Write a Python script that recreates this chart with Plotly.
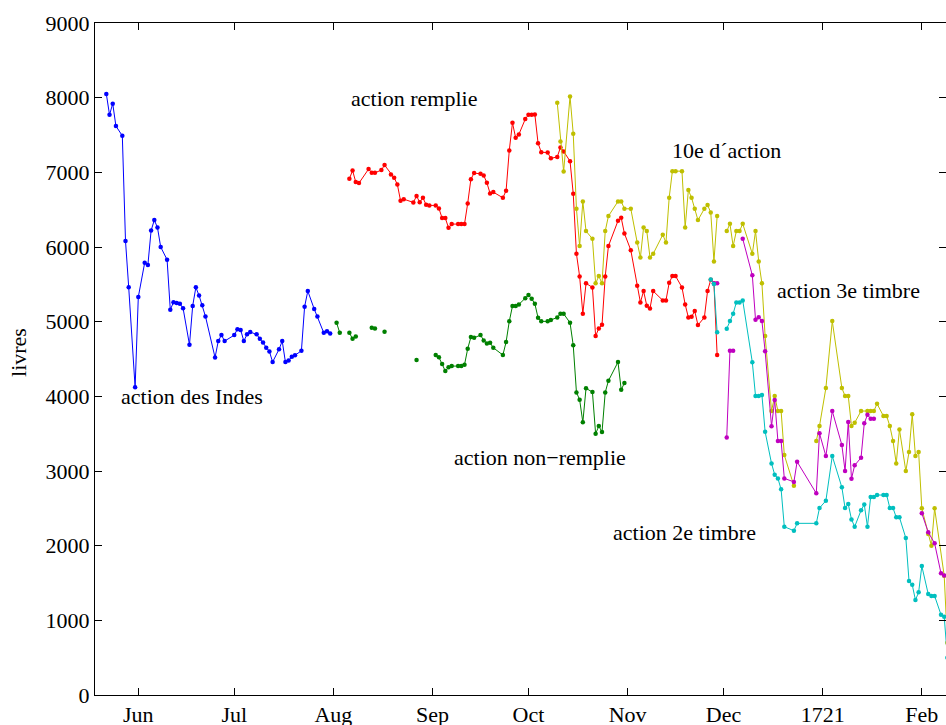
import plotly.graph_objects as go
import pandas as pd

# x values are days counted from 1 June 1720 (negative = late May 1720)
BASE_DATE = "1720-06-01"

blue_days = [-10, -9, -8, -7, -5, -4, -3, -1, 0, 2, 3, 4, 5, 6, 7, 9, 10, 11, 12, 13, 14,
             16, 17, 18, 19, 20, 21, 24, 25, 26, 27, 30, 31, 32, 33, 34, 35, 37, 38, 39, 40,
             41, 42, 44, 45, 46, 47, 48, 49, 51, 52, 53, 55, 56, 58, 59, 60]
blue_vals = [8050, 7770, 7920, 7620, 7490, 6080, 5460, 4120, 5330, 5790, 5760, 6220, 6360,
             6260, 6000, 5830, 5160, 5260, 5250, 5240, 5180, 4690, 5210, 5460, 5350, 5220,
             5070, 4520, 4740, 4820, 4740, 4820, 4900, 4890, 4740, 4830, 4860, 4830, 4770,
             4720, 4650, 4600, 4460, 4630, 4740, 4460, 4480, 4530, 4550, 4610, 5200, 5410,
             5170, 5070, 4850, 4870, 4840]

green_days = [62, 63, 64, 66, 67, 68, 70, 73, 74, 75, 77, 80, 87, 90,
              93, 94, 95, 96, 97, 98, 100, 101, 102, 103, 104, 105, 107, 108, 109, 110, 111,
              114, 115, 116, 117, 118, 119, 121, 122, 123, 124, 125, 126, 128, 129, 131, 132,
              133, 135, 136, 137, 138, 139, 140, 142, 143, 144, 145, 146, 147, 150, 151, 152]
green_vals = [4985, 4850, None, 4850, 4770, 4800, None, 4920, 4910, None, 4865, None, 4486, None,
              4553, 4522, 4432, 4338, 4388, 4405, 4405, 4405, 4423, 4637, 4794, 4784, 4820,
              4749, 4709, 4717, 4651, 4553, 4727, 5004, 5209, 5209, 5231, 5312, 5356, 5306,
              5239, 5052, 5004, 5004, 5021, 5057, 5106, 5106, 4985, 4683, 4053, 3955, 3652,
              4107, 4057, 3499, 3602, 3522, 4053, 4208, 4459, 4088, 4178]

red_days = [66, 67, 68, 69, 72, 73, 74, 76, 77, 79, 80, 81, 82, 83, 86, 87, 88, 89, 90, 91,
            93, 94, 95, 96, 97, 98, 100, 101, 102, 103, 104, 105, 107, 108, 109, 110, 111,
            114, 115, 116, 117, 118, 119, 121, 122, 123, 124, 125, 126, 128, 129, 131, 132,
            133, 135, 136, 137, 138, 139, 140, 142, 143, 144, 145, 146, 147, 150, 151, 152,
            154, 156, 157, 158, 159, 160, 161, 164, 165, 166, 167, 168, 170, 171, 172, 173,
            174, 175, 177, 178, 179, 180, 181]
red_vals = [6913, 7025, 6869, 6856, 7043, 6994, 6994, 7030, 7097, 6972, 6927, 6838, 6619, 6641,
            6597, 6682, 6601, 6659, 6565, 6557, 6557, 6517, 6387, 6387, 6257, 6307, 6307, 6307,
            6307, 6584, 6909, 6990, 6980, 6959, 6860, 6718, 6735, 6659, 6753, 7293, 7663, 7462,
            7508, 7713, 7770, 7770, 7775, 7391, 7270, 7264, 7188, 7206, 7334, 7280, 7150, 6713,
            5909, 5606, 5106, 5513, 5459, 4807, 4910, 4958, 5606, 6012, 6351, 6391, 6182, 5958,
            5481, 5258, 5410, 5213, 5178, 5410, 5285, 5285, 5521, 5610, 5610, 5459, 5231, 5057,
            5066, 5142, 4954, 5057, 5410, 5560, 5510, 4553]

yellow_days = [131, 132, 133, 135, 136, 137, 138, 139, 140, 142, 143, 144, 145, 146, 147, 150,
               151, 152, 154, 156, 157, 158, 159, 160, 161, 164, 165, 166, 167, 168, 170, 171,
               172, 173, 174, 175, 177, 178, 179, 180, 181, 182, 184, 185, 186, 187, 188, 189,
               192, 193, 194, 195, 196, 198, 199, 200, 201, 202, 205, 208, 212, 213, 215, 217,
               220, 221, 222, 223, 224, 226, 228, 229, 230, 231, 233, 234, 235, 236, 237, 238,
               240, 241, 242, 243, 244, 245, 247, 248, 249, 252, 253]
yellow_vals = [7931, 7414, 7012, 8017, 7516, 6512, 6012, 6611, 6213, 6110, 5513, 5610, 5513,
               6213, 6414, 6611, 6611, 6512, 6512, 6061, 5861, 6262, 6213, 5861, 5909, 6164,
               6061, 6659, 7016, 7016, 7016, 6262, 6762, 6659, 6512, 6360, 6512, 6561, 6463,
               5807, 6414, None, 6213, 6311, 6012, 6213, 6213, 6311, 5909, 6213, 5807, 5513,
               4807, 3803, 4004, 3803, 3803, 3214, 2803, None, 3401, 3602, 4111, 5008, 4111,
               4004, 4004, 3602, 3646, 3803, 3803, 3803, 3803, 3900, 3736, 3736, 3602, 3401,
               3102, 3557, 2999, 3254, 3759, 3200, 3254, 2500, 2156, 1999, 2500, 1597, 700]

magenta_days = [180, 181, 182, 184, 185, 186, 187, 189, 192, 193, 194, 195, 196, 198, 199, 200,
                201, 202, 205, 206, 212, 213, 215, 217, 220, 221, 222, 223, 224, 226, 227, 228,
                229, 230, 235, 245, 247, 249, 251, 252]
magenta_vals = [5513, 5513, None, 3450, 4610, 4610, None, 6110, 5620, 5025, 5058, 5008, 4605,
                3600, 3950, 3401, 3401, 2901, 2854, 3124, 2701, 3504, 3200, 3803, 3348, 2999,
                3655, 2896, 3076, 3178, 3638, 3753, 3700, 3700, None, 2433, 2180, 2031, 1630,
                1600]

cyan_days = [179, 180, 181, 182, 184, 185, 186, 187, 188, 189, 192, 193, 194, 195, 196, 198,
             199, 200, 201, 202, 205, 206, 212, 213, 215, 217, 220, 221, 222, 223, 224, 226,
             227, 228, 229, 230, 231, 233, 234, 235, 236, 237, 238, 240, 241, 242, 243, 244,
             245, 247, 248, 249, 251, 252, 253]
cyan_vals = [5566, 5503, 4857, None, 4905, 5008, 5106, 5258, 5258, 5285, 4455, 4004, 4004, 4017,
             3526, 3102, 2950, 2901, 2754, 2254, 2200, 2299, 2299, 2504, 2602, 3200, 2781, 2504,
             2557, 2352, 2254, 2473, 2553, 2254, 2651, 2651, 2678, 2678, 2678, 2504, 2504, 2379,
             2379, 2102, 1526, 1477, 1272, 1375, 1727, 1352, 1326, 1326, 1075, 1048, 500]

tick_dates = ["1720-06-01", "1720-07-01", "1720-08-01", "1720-09-01", "1720-10-01",
              "1720-11-01", "1720-12-01", "1721-01-01", "1721-02-01"]
tick_labels = ["Jun", "Jul", "Aug", "Sep", "Oct", "Nov", "Dec", "1721", "Feb"]
y_ticks = [0, 1000, 2000, 3000, 4000, 5000, 6000, 7000, 8000, 9000]

labels = ["action des Indes", "action remplie", "10e d\u00b4action", "action 3e timbre",
          "action non\u2212remplie", "action 2e timbre"]
label_days = [-6.0, 65.85, 166.2, 199.1, 98.2, 147.7]
label_vals = [4000, 7990, 7298, 5423, 3187, 2183]

base = pd.Timestamp(BASE_DATE)


def to_dates(days):
    return [(base + pd.Timedelta(days=d)).strftime("%Y-%m-%d %H:%M") for d in days]


series = [
    (blue_days, blue_vals, "rgb(0,0,255)"),
    (green_days, green_vals, "rgb(0,128,0)"),
    (red_days, red_vals, "rgb(255,0,0)"),
    (yellow_days, yellow_vals, "rgb(191,191,0)"),
    (magenta_days, magenta_vals, "rgb(191,0,191)"),
    (cyan_days, cyan_vals, "rgb(0,191,191)"),
]

fig = go.Figure()
for days, vals, col in series:
    fig.add_trace(go.Scatter(
        x=to_dates(days), y=vals, mode="lines+markers",
        line=dict(color=col, width=1), marker=dict(color=col, size=4.5),
        connectgaps=False, showlegend=False, cliponaxis=True))

for txt, d, v in zip(labels, label_days, label_vals):
    fig.add_annotation(x=to_dates([d])[0], y=v, text=txt, showarrow=False,
                       xanchor="left", yanchor="middle",
                       font=dict(family="Liberation Serif", size=22, color="black"))

fig.add_annotation(xref="paper", yref="paper", x=-0.0893, y=0.509, text="livres",
                   textangle=-90, showarrow=False, xanchor="center", yanchor="middle",
                   font=dict(family="Liberation Serif", size=22, color="black"))

axis_style = dict(showline=True, linecolor="black", linewidth=1, mirror="ticks",
                  ticks="inside", ticklen=7, tickcolor="black", showgrid=False,
                  zeroline=False, automargin=False)

fig.update_layout(
    width=946, height=725,
    margin=dict(l=95, r=0, t=23, b=30),
    paper_bgcolor="white", plot_bgcolor="white",
    font=dict(family="Liberation Serif", size=22, color="black"),
    xaxis=dict(type="date", range=["1720-05-18 11:00", "1721-02-08 13:26"],
               tickmode="array", tickvals=tick_dates, ticktext=tick_labels, **axis_style),
    yaxis=dict(range=[0, 9000], tickmode="array", tickvals=y_ticks,
               ticktext=[str(v) for v in y_ticks], **axis_style),
)

fig.write_html("out.html", config={"displayModeBar": False},
               post_script="document.body.style.margin='0px';document.body.style.overflow='hidden';")
